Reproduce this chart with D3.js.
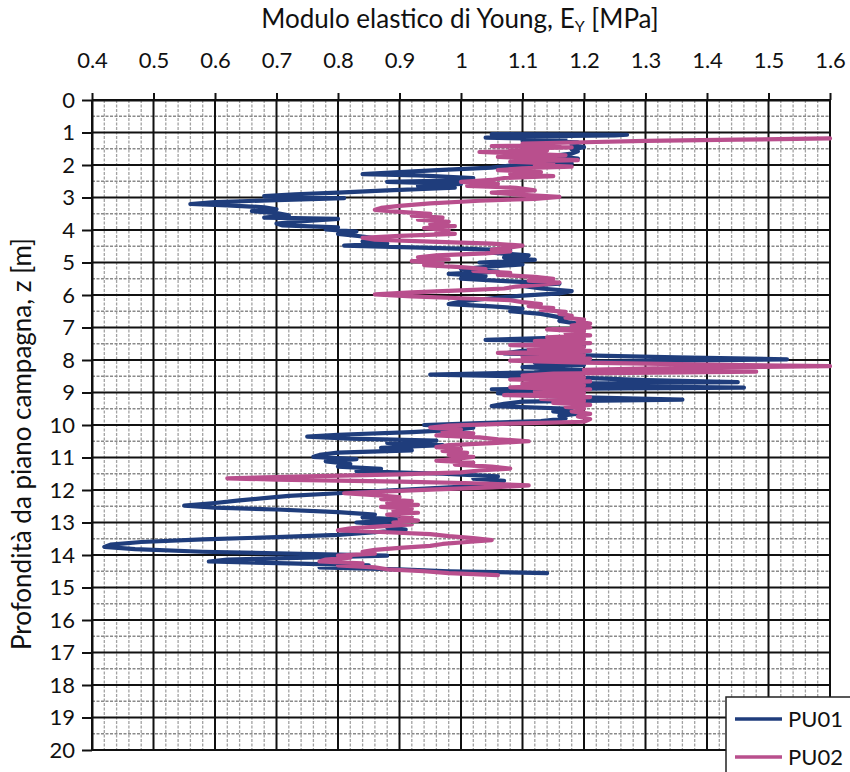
<!DOCTYPE html>
<html>
<head>
<meta charset="utf-8">
<script src="https://cdn.jsdelivr.net/npm/d3@7"></script>
<style>
  body { margin: 0; background: #fff; }
  svg { display: block; font-family: Lato, "Open Sans", sans-serif; }
</style>
</head>
<body>
<svg id="chart" width="850" height="772"></svg>
<script>
// Axis tick values
const xTickValues = [0.4, 0.5, 0.6, 0.7, 0.8, 0.9, 1.0, 1.1, 1.2, 1.3, 1.4, 1.5, 1.6];
const yTickValues = [0, 1, 2, 3, 4, 5, 6, 7, 8, 9, 10, 11, 12, 13, 14, 15, 16, 17, 18, 19, 20];

const seriesNames = ["PU01", "PU02"];

// PU01: depth z [m] and Young's modulus E_Y [MPa]
const pu01Depth = [1.05,1.07,1.09,1.12,1.16,1.20,1.25,1.30,1.38,1.45,1.52,1.58,1.65,1.72,1.80,1.88,1.95,2.02,2.08,2.15,2.22,2.28,2.32,2.40,2.48,2.52,2.58,2.64,2.70,2.78,2.85,2.90,2.96,3.02,3.08,3.14,3.20,3.24,3.30,3.36,3.42,3.48,3.55,3.62,3.66,3.72,3.80,3.86,3.92,3.98,4.05,4.12,4.20,4.28,4.35,4.42,4.48,4.55,4.62,4.70,4.78,4.85,4.92,5.00,5.06,5.12,5.20,5.28,5.35,5.42,5.50,5.58,5.65,5.72,5.80,5.88,5.95,6.02,6.10,6.20,6.28,6.35,6.42,6.50,6.58,6.65,6.72,6.80,6.88,6.95,7.05,7.15,7.22,7.30,7.38,7.42,7.50,7.58,7.65,7.72,7.80,7.86,7.92,7.98,8.03,8.08,8.15,8.22,8.30,8.38,8.45,8.50,8.55,8.62,8.68,8.72,8.78,8.85,8.90,8.95,9.02,9.08,9.15,9.22,9.28,9.35,9.42,9.50,9.58,9.65,9.72,9.80,9.88,9.95,10.00,10.08,10.15,10.22,10.30,10.36,10.42,10.48,10.55,10.62,10.70,10.78,10.85,10.92,10.98,11.05,11.12,11.20,11.28,11.35,11.42,11.50,11.58,11.65,11.72,11.80,11.88,11.95,12.02,12.10,12.18,12.25,12.32,12.40,12.48,12.54,12.60,12.68,12.76,12.84,12.92,13.00,13.08,13.15,13.22,13.30,13.38,13.45,13.52,13.60,13.68,13.75,13.82,13.90,13.96,14.02,14.08,14.14,14.20,14.26,14.32,14.38,14.44,14.50,14.56];
const pu01E = [1.05,1.27,1.25,1.10,1.04,1.17,1.10,1.19,1.18,1.20,1.18,1.19,1.18,1.15,1.19,1.12,1.18,1.08,1.05,0.97,0.90,0.84,0.93,1.02,0.98,0.88,1.00,0.93,0.99,0.88,0.80,0.73,0.68,0.81,0.70,0.60,0.56,0.62,0.68,0.70,0.66,0.70,0.72,0.68,0.80,0.75,0.70,0.71,0.80,0.78,0.83,0.80,0.84,0.87,0.84,0.88,0.81,0.95,1.08,1.05,1.11,1.07,1.12,1.03,1.10,1.05,1.00,1.06,0.98,1.04,1.00,1.08,1.16,1.10,1.13,1.18,1.16,1.10,1.05,1.00,0.98,1.05,1.10,1.08,1.13,1.15,1.17,1.16,1.19,1.20,1.20,1.19,1.20,1.18,1.04,1.18,1.12,1.20,1.18,1.10,1.07,1.20,1.35,1.53,1.30,1.12,1.20,1.10,1.20,1.12,0.95,1.10,1.20,1.30,1.45,1.20,1.10,1.46,1.05,1.20,1.06,1.10,1.20,1.36,1.10,1.07,1.05,1.18,1.15,1.19,1.16,1.17,1.13,1.02,0.94,1.02,0.99,0.92,0.80,0.75,0.82,0.96,0.88,0.97,0.87,0.92,0.80,0.77,0.76,0.83,0.78,0.82,0.80,0.87,0.83,0.97,1.06,1.02,1.07,1.05,1.02,0.95,0.88,0.80,0.72,0.68,0.64,0.60,0.55,0.60,0.70,0.80,0.86,0.84,0.91,0.83,0.90,0.88,0.91,0.86,0.80,0.70,0.58,0.48,0.43,0.42,0.47,0.58,0.72,0.88,0.75,0.62,0.59,0.72,0.85,0.77,0.90,0.98,1.14];

// PU02: depth z [m] and Young's modulus E_Y [MPa]
const pu02Depth = [1.18,1.22,1.26,1.30,1.34,1.38,1.42,1.46,1.50,1.55,1.60,1.65,1.70,1.75,1.80,1.85,1.90,1.95,2.00,2.05,2.10,2.16,2.22,2.28,2.34,2.40,2.46,2.52,2.58,2.64,2.70,2.78,2.85,2.92,2.98,3.04,3.10,3.18,3.26,3.32,3.38,3.44,3.50,3.56,3.62,3.68,3.75,3.82,3.88,3.94,4.00,4.06,4.12,4.18,4.24,4.30,4.36,4.42,4.48,4.54,4.60,4.66,4.72,4.78,4.84,4.90,4.96,5.02,5.08,5.14,5.20,5.26,5.32,5.38,5.44,5.50,5.56,5.62,5.68,5.74,5.80,5.86,5.92,5.98,6.04,6.10,6.16,6.22,6.28,6.34,6.40,6.46,6.52,6.58,6.64,6.70,6.76,6.82,6.88,6.94,7.00,7.06,7.12,7.18,7.24,7.30,7.36,7.42,7.48,7.54,7.60,7.66,7.72,7.78,7.84,7.90,7.96,8.02,8.08,8.14,8.19,8.24,8.30,8.36,8.42,8.48,8.54,8.60,8.66,8.72,8.78,8.84,8.90,8.96,9.02,9.08,9.14,9.20,9.26,9.32,9.38,9.44,9.50,9.58,9.66,9.74,9.82,9.90,9.96,10.02,10.08,10.14,10.20,10.26,10.32,10.38,10.44,10.50,10.56,10.62,10.68,10.74,10.80,10.86,10.92,10.98,11.04,11.10,11.16,11.22,11.28,11.34,11.40,11.46,11.52,11.58,11.64,11.68,11.74,11.80,11.86,11.92,11.98,12.04,12.10,12.16,12.22,12.28,12.34,12.40,12.46,12.52,12.58,12.64,12.70,12.76,12.82,12.88,12.94,13.00,13.06,13.12,13.18,13.24,13.30,13.36,13.42,13.48,13.54,13.60,13.66,13.72,13.78,13.84,13.90,13.96,14.02,14.08,14.14,14.20,14.26,14.32,14.38,14.44,14.50,14.56,14.62];
const pu02E = [1.60,1.45,1.30,1.20,1.10,1.16,1.05,1.18,1.08,1.14,1.03,1.10,1.17,1.06,1.12,1.19,1.08,1.15,1.12,1.18,1.10,1.06,1.13,1.08,1.15,1.07,1.05,1.00,1.06,1.01,1.09,1.12,1.05,1.10,1.16,1.12,1.03,0.95,0.90,0.87,0.86,0.90,0.95,0.92,0.97,0.93,0.98,0.95,0.99,0.94,0.98,0.96,0.99,0.90,0.84,0.86,0.95,1.05,1.10,1.08,1.05,1.08,1.04,0.96,0.93,0.98,0.92,0.97,0.94,1.00,1.04,1.02,1.08,1.06,1.12,1.15,1.11,1.16,1.13,1.09,1.07,1.00,0.92,0.86,0.92,1.00,1.08,1.10,1.13,1.11,1.15,1.13,1.17,1.16,1.18,1.17,1.20,1.19,1.21,1.18,1.21,1.14,1.20,1.17,1.21,1.14,1.20,1.12,1.21,1.08,1.20,1.11,1.21,1.06,1.20,1.10,1.21,1.08,1.20,1.40,1.60,1.35,1.20,1.48,1.15,1.10,1.20,1.08,1.21,1.10,1.20,1.08,1.21,1.12,1.20,1.07,1.21,1.13,1.20,1.15,1.21,1.17,1.20,1.18,1.21,1.19,1.21,1.20,1.08,0.98,0.95,1.00,0.97,1.02,0.96,1.03,1.06,1.11,1.05,0.98,0.96,1.00,0.97,1.01,0.98,1.02,0.99,0.96,1.02,0.99,1.05,1.08,1.03,1.00,0.90,0.75,0.62,0.70,0.90,1.04,1.11,1.05,0.96,0.88,0.81,0.86,0.90,0.87,0.92,0.88,0.93,0.87,0.92,0.89,0.93,0.88,0.92,0.90,0.93,0.89,0.92,0.87,0.82,0.80,0.88,0.95,0.98,1.02,1.05,1.01,0.97,0.95,0.90,0.86,0.84,0.86,0.80,0.82,0.78,0.77,0.84,0.80,0.86,0.88,0.94,0.98,1.06];

const colors = { PU01: "#1f3d7c", PU02: "#b94f8d" };

const svg = d3.select("#chart");
const plot = { left: 92, right: 830, top: 100, bottom: 750 };

const x = d3.scaleLinear().domain([0.4, 1.6]).range([plot.left, plot.right]);
const y = d3.scaleLinear().domain([0, 20]).range([plot.top, plot.bottom]);

// Minor grid: every 0.02 MPa and every 0.5 m
const minorX = d3.range(20, 81).filter(i => i % 5 !== 0).map(i => i / 50);
const minorY = d3.range(0, 20).map(i => i + 0.5);

const grid = svg.append("g");
grid.selectAll("line.mx").data(minorX).join("line")
  .attr("x1", d => x(d)).attr("x2", d => x(d))
  .attr("y1", plot.top).attr("y2", plot.bottom)
  .attr("stroke", "#a3a3a3").attr("stroke-width", 1.3).attr("stroke-dasharray", "3,1.5");
grid.selectAll("line.my").data(minorY).join("line")
  .attr("x1", plot.left).attr("x2", plot.right)
  .attr("y1", d => y(d)).attr("y2", d => y(d))
  .attr("stroke", "#8a8a8a").attr("stroke-width", 1.3).attr("stroke-dasharray", "3,1.5");

// Major grid
grid.selectAll("line.gx").data(xTickValues).join("line")
  .attr("x1", d => x(d)).attr("x2", d => x(d))
  .attr("y1", plot.top).attr("y2", plot.bottom)
  .attr("stroke", "#111").attr("stroke-width", 2);
grid.selectAll("line.gy").data(yTickValues).join("line")
  .attr("x1", plot.left).attr("x2", plot.right)
  .attr("y1", d => y(d)).attr("y2", d => y(d))
  .attr("stroke", "#111").attr("stroke-width", 2);

// Axes
const xAxis = d3.axisTop(x).tickValues(xTickValues)
  .tickFormat(d => String(+d.toFixed(1)))
  .tickSize(7).tickSizeOuter(0).tickPadding(25);
const gx = svg.append("g").attr("transform", `translate(0,${plot.top})`).call(xAxis);
gx.select(".domain").attr("stroke", "#111").attr("stroke-width", 2);
gx.selectAll(".tick line").attr("stroke", "#111").attr("stroke-width", 2);
gx.selectAll(".tick text").attr("font-size", 22).attr("fill", "#111")
  .attr("font-family", "Lato, 'Open Sans', sans-serif");

const yAxis = d3.axisLeft(y).tickValues(yTickValues)
  .tickFormat(d3.format("d"))
  .tickSize(10).tickSizeOuter(0).tickPadding(7);
const gy = svg.append("g").attr("transform", `translate(${plot.left},0)`).call(yAxis);
gy.select(".domain").attr("stroke", "#111").attr("stroke-width", 2);
gy.selectAll(".tick line").attr("stroke", "#111").attr("stroke-width", 2);
gy.selectAll(".tick text").attr("font-size", 22).attr("fill", "#111")
  .attr("font-family", "Lato, 'Open Sans', sans-serif");

// Axis titles
const xTitle = svg.append("text")
  .attr("x", 460).attr("y", 28)
  .attr("text-anchor", "middle").attr("font-size", 26).attr("fill", "#111");
xTitle.append("tspan").text("Modulo elastico di Young, E");
xTitle.append("tspan").attr("font-size", 16).attr("dy", 4).text("Y");
xTitle.append("tspan").attr("dy", -4).text(" [MPa]");

svg.append("text")
  .attr("transform", "translate(31,444) rotate(-90)")
  .attr("text-anchor", "middle").attr("font-size", 26).attr("fill", "#111")
  .text("Profondità da piano campagna, z [m]");

// Profiles
const line = d3.line().x(d => x(d[1])).y(d => y(d[0]));
const series = [
  { name: "PU01", pts: d3.zip(pu01Depth, pu01E) },
  { name: "PU02", pts: d3.zip(pu02Depth, pu02E) }
];
svg.append("g").selectAll("path").data(series).join("path")
  .attr("d", d => line(d.pts))
  .attr("fill", "none")
  .attr("stroke", d => colors[d.name])
  .attr("stroke-width", 4.2)
  .attr("stroke-linejoin", "round")
  .attr("stroke-linecap", "round");

// Legend
const lg = svg.append("g");
lg.append("rect").attr("x", 726).attr("y", 697).attr("width", 140).attr("height", 100)
  .attr("fill", "#fff").attr("stroke", "#222").attr("stroke-width", 1.5);
seriesNames.forEach((name, i) => {
  const yy = 719 + i * 38;
  lg.append("line").attr("x1", 735).attr("x2", 782).attr("y1", yy).attr("y2", yy)
    .attr("stroke", colors[name]).attr("stroke-width", 3.5);
  lg.append("text").attr("x", 788).attr("y", yy + 8)
    .attr("font-size", 22).attr("fill", "#111").text(name);
});
</script>
</body>
</html>
